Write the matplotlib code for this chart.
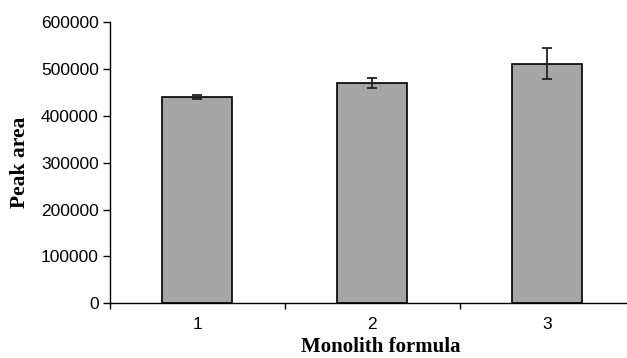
import matplotlib
matplotlib.use('Agg')
import matplotlib.pyplot as plt
import numpy as np

# data
formulas = ['1', '2', '3']
peak_area = [440000, 470000, 511000]
peak_err = [5000, 11000, 33000]
yticks = [0, 100000, 200000, 300000, 400000, 500000, 600000]

fig = plt.figure(figsize=(6.27, 3.58), dpi=100)
ax = fig.add_axes([0.1754, 0.1528, 0.837, 0.7858])

x = np.arange(1, len(formulas) + 1)
ax.bar(x, peak_area, width=0.4, color='#a6a6a6', edgecolor='black', linewidth=1.2, zorder=2)
ax.errorbar(x, peak_area, yerr=peak_err, fmt='none', ecolor='#222222',
            elinewidth=1.3, capsize=3.8, capthick=1.3, zorder=3)

ax.set_xlim(0.5, len(formulas) + 0.5)
ax.set_ylim(0, 600000)
ax.set_yticks(yticks)
ax.set_yticklabels([str(v) for v in yticks], fontsize=12.5, family='Liberation Sans')

# ticks on category boundaries, labels in the middle
ax.set_xticks(np.arange(0.5, len(formulas) + 1.5, 1.0))
ax.set_xticklabels([])
ax.set_xticks(x, minor=True)
ax.set_xticklabels(formulas, minor=True, fontsize=12.5, family='Liberation Sans')
ax.tick_params(axis='x', which='minor', length=0, pad=10)
ax.tick_params(axis='x', which='major', length=4, width=1, direction='out')
ax.tick_params(axis='y', length=5, width=1, direction='out', pad=3)

for s in ['top', 'right']:
    ax.spines[s].set_visible(False)
ax.spines['left'].set_linewidth(1)
ax.spines['bottom'].set_linewidth(1)

ax.set_ylabel('Peak area', fontsize=15.5, fontweight='bold', family='Liberation Serif', labelpad=8)
ax.set_xlabel('Monolith formula', fontsize=15, fontweight='bold', family='Liberation Serif',
              va='center')
ax.xaxis.set_label_coords((381 / 627 - 0.1754) / 0.837, -0.155)

fig.savefig('out.png', dpi=100)
